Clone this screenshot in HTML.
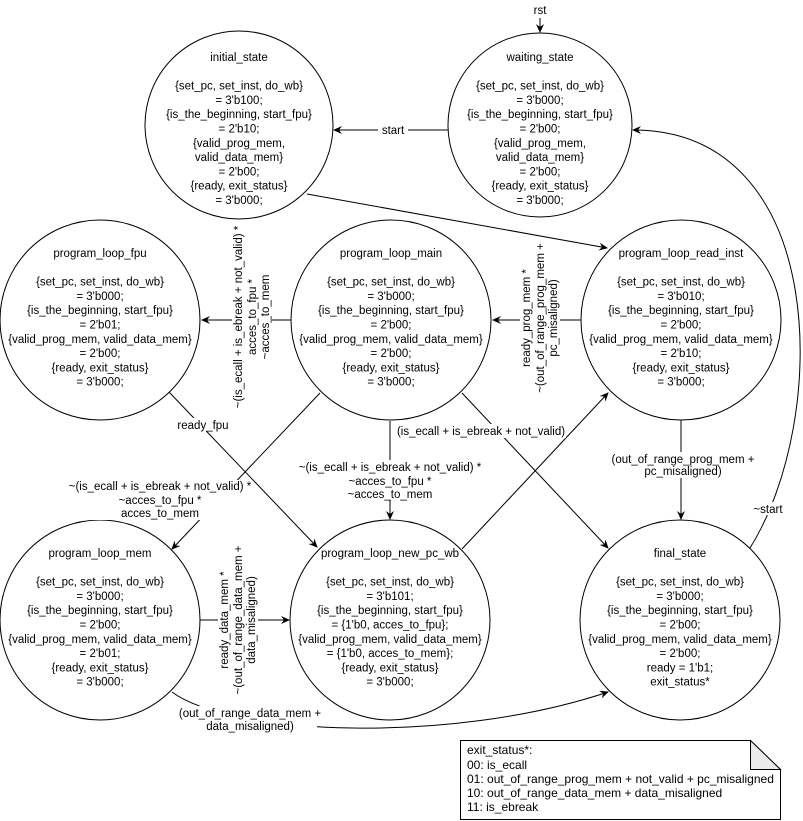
<!DOCTYPE html>
<html><head><meta charset="utf-8"><style>
html,body{margin:0;padding:0;background:#fff;}
svg{display:block;font-family:"Liberation Sans",Arial,sans-serif;font-size:11.5px;}
</style></head><body>
<svg width="803" height="821" viewBox="0 0 803 821" xmlns="http://www.w3.org/2000/svg">
<defs>
<marker id="a" markerWidth="10" markerHeight="10" refX="8" refY="5" orient="auto" markerUnits="userSpaceOnUse">
<path d="M0,1 L9,5 L0,9 L3,5 Z" fill="#000"/>
</marker>
</defs>
<g fill="#fff" stroke="#000" stroke-width="1">
<circle cx="239" cy="125" r="94"/>
<circle cx="540" cy="125" r="92"/>
<circle cx="100" cy="320" r="100"/>
<circle cx="391" cy="320" r="100"/>
<circle cx="681" cy="320" r="100"/>
<circle cx="100" cy="620" r="100"/>
<circle cx="390" cy="620" r="100"/>
<circle cx="680" cy="620" r="100"/>
</g>
<g fill="none" stroke="#000" stroke-width="1" marker-end="url(#a)">
<line x1="540" y1="18" x2="540" y2="32"/>
<line x1="448" y1="130" x2="334" y2="130"/>
<line x1="307" y1="194" x2="607" y2="248"/>
<line x1="291" y1="320" x2="202" y2="320"/>
<line x1="581" y1="320" x2="493" y2="320"/>
<line x1="169" y1="392" x2="317" y2="547"/>
<line x1="320" y1="393" x2="172" y2="549"/>
<line x1="390" y1="421" x2="390" y2="519"/>
<line x1="462" y1="393" x2="608" y2="548"/>
<line x1="462" y1="549" x2="608" y2="393"/>
<line x1="681" y1="420" x2="681" y2="519"/>
<line x1="200" y1="620" x2="289" y2="620"/>
<path d="M172,692 C230,735 450,745 608,692"/>
<path d="M750,548 C830,420 830,130 633,130"/>
</g>
<g text-anchor="middle" fill="#000">
<text x="540" y="14">rst</text>
<rect x="378" y="123" width="30" height="13" fill="#fff"/><text x="393" y="134">start</text>
<rect x="176" y="418" width="54" height="13" fill="#fff"/><text x="203" y="429">ready_fpu</text>
<rect x="396" y="424" width="170" height="14" fill="#fff"/><text x="481" y="435">(is_ecall + is_ebreak + not_valid)</text>
<rect x="68" y="480" width="184" height="40" fill="#fff"/>
<text x="160" y="490">~(is_ecall + is_ebreak + not_valid) *</text>
<text x="160" y="504">~acces_to_fpu *</text>
<text x="160" y="517">acces_to_mem</text>
<rect x="298" y="460" width="184" height="40" fill="#fff"/>
<text x="390" y="471">~(is_ecall + is_ebreak + not_valid) *</text>
<text x="390" y="485">~acces_to_fpu *</text>
<text x="390" y="498">~acces_to_mem</text>
<rect x="613" y="452" width="138" height="26" fill="#fff"/>
<text x="683" y="463">(out_of_range_prog_mem +</text>
<text x="683" y="475">pc_misaligned)</text>
<rect x="183" y="706" width="134" height="26" fill="#fff"/>
<text x="250" y="717">(out_of_range_data_mem +</text>
<text x="250" y="730">data_misaligned)</text>
<rect x="752" y="502" width="32" height="13" fill="#fff"/><text x="768" y="513">~start</text>
<g transform="translate(252,317) rotate(-90)">
<rect x="-90" y="-20" width="180" height="40" fill="#fff"/>
<text x="0" y="-10">~(is_ecall + is_ebreak + not_valid) *</text>
<text x="0" y="4">acces_to_fpu *</text>
<text x="0" y="17">~acces_to_mem</text>
</g>
<g transform="translate(540,318) rotate(-90)">
<rect x="-74" y="-20" width="148" height="40" fill="#fff"/>
<text x="0" y="-10">ready_prog_mem *</text>
<text x="0" y="4">~(out_of_range_prog_mem +</text>
<text x="0" y="17">pc_misaligned)</text>
</g>
<g transform="translate(238,620) rotate(-90)">
<rect x="-74" y="-20" width="148" height="40" fill="#fff"/>
<text x="0" y="-10">ready_data_mem *</text>
<text x="0" y="4">~(out_of_range_data_mem +</text>
<text x="0" y="17">data_misaligned)</text>
</g>
</g>
<g text-anchor="middle" fill="#000">
<text x="239" y="61"><tspan x="239">initial_state</tspan><tspan x="239" dy="28.6">{set_pc, set_inst, do_wb}</tspan><tspan x="239" dy="14.3">= 3'b100;</tspan><tspan x="239" dy="14.3">{is_the_beginning, start_fpu}</tspan><tspan x="239" dy="14.3">= 2'b10;</tspan><tspan x="239" dy="14.3">{valid_prog_mem,</tspan><tspan x="239" dy="14.3">valid_data_mem}</tspan><tspan x="239" dy="14.3">= 2'b00;</tspan><tspan x="239" dy="14.3">{ready, exit_status}</tspan><tspan x="239" dy="14.3">= 3'b000;</tspan></text>
<text x="540" y="61"><tspan x="540">waiting_state</tspan><tspan x="540" dy="28.6">{set_pc, set_inst, do_wb}</tspan><tspan x="540" dy="14.3">= 3'b000;</tspan><tspan x="540" dy="14.3">{is_the_beginning, start_fpu}</tspan><tspan x="540" dy="14.3">= 2'b00;</tspan><tspan x="540" dy="14.3">{valid_prog_mem,</tspan><tspan x="540" dy="14.3">valid_data_mem}</tspan><tspan x="540" dy="14.3">= 2'b00;</tspan><tspan x="540" dy="14.3">{ready, exit_status}</tspan><tspan x="540" dy="14.3">= 3'b000;</tspan></text>
<text x="100" y="257"><tspan x="100">program_loop_fpu</tspan><tspan x="100" dy="28.6">{set_pc, set_inst, do_wb}</tspan><tspan x="100" dy="14.3">= 3'b000;</tspan><tspan x="100" dy="14.3">{is_the_beginning, start_fpu}</tspan><tspan x="100" dy="14.3">= 2'b01;</tspan><tspan x="100" dy="14.3">{valid_prog_mem, valid_data_mem}</tspan><tspan x="100" dy="14.3">= 2'b00;</tspan><tspan x="100" dy="14.3">{ready, exit_status}</tspan><tspan x="100" dy="14.3">= 3'b000;</tspan></text>
<text x="391" y="257"><tspan x="391">program_loop_main</tspan><tspan x="391" dy="28.6">{set_pc, set_inst, do_wb}</tspan><tspan x="391" dy="14.3">= 3'b000;</tspan><tspan x="391" dy="14.3">{is_the_beginning, start_fpu}</tspan><tspan x="391" dy="14.3">= 2'b00;</tspan><tspan x="391" dy="14.3">{valid_prog_mem, valid_data_mem}</tspan><tspan x="391" dy="14.3">= 2'b00;</tspan><tspan x="391" dy="14.3">{ready, exit_status}</tspan><tspan x="391" dy="14.3">= 3'b000;</tspan></text>
<text x="681" y="257"><tspan x="681">program_loop_read_inst</tspan><tspan x="681" dy="28.6">{set_pc, set_inst, do_wb}</tspan><tspan x="681" dy="14.3">= 3'b010;</tspan><tspan x="681" dy="14.3">{is_the_beginning, start_fpu}</tspan><tspan x="681" dy="14.3">= 2'b00;</tspan><tspan x="681" dy="14.3">{valid_prog_mem, valid_data_mem}</tspan><tspan x="681" dy="14.3">= 2'b10;</tspan><tspan x="681" dy="14.3">{ready, exit_status}</tspan><tspan x="681" dy="14.3">= 3'b000;</tspan></text>
<text x="100" y="557"><tspan x="100">program_loop_mem</tspan><tspan x="100" dy="28.6">{set_pc, set_inst, do_wb}</tspan><tspan x="100" dy="14.3">= 3'b000;</tspan><tspan x="100" dy="14.3">{is_the_beginning, start_fpu}</tspan><tspan x="100" dy="14.3">= 2'b00;</tspan><tspan x="100" dy="14.3">{valid_prog_mem, valid_data_mem}</tspan><tspan x="100" dy="14.3">= 2'b01;</tspan><tspan x="100" dy="14.3">{ready, exit_status}</tspan><tspan x="100" dy="14.3">= 3'b000;</tspan></text>
<text x="390" y="557"><tspan x="390">program_loop_new_pc_wb</tspan><tspan x="390" dy="28.6">{set_pc, set_inst, do_wb}</tspan><tspan x="390" dy="14.3">= 3'b101;</tspan><tspan x="390" dy="14.3">{is_the_beginning, start_fpu}</tspan><tspan x="390" dy="14.3">= {1'b0, acces_to_fpu};</tspan><tspan x="390" dy="14.3">{valid_prog_mem, valid_data_mem}</tspan><tspan x="390" dy="14.3">= {1'b0, acces_to_mem};</tspan><tspan x="390" dy="14.3">{ready, exit_status}</tspan><tspan x="390" dy="14.3">= 3'b000;</tspan></text>
<text x="680" y="557"><tspan x="680">final_state</tspan><tspan x="680" dy="28.6">{set_pc, set_inst, do_wb}</tspan><tspan x="680" dy="14.3">= 3'b000;</tspan><tspan x="680" dy="14.3">{is_the_beginning, start_fpu}</tspan><tspan x="680" dy="14.3">= 2'b00;</tspan><tspan x="680" dy="14.3">{valid_prog_mem, valid_data_mem}</tspan><tspan x="680" dy="14.3">= 2'b00;</tspan><tspan x="680" dy="14.3">ready = 1'b1;</tspan><tspan x="680" dy="14.3">exit_status*</tspan></text>
</g>
<path d="M460.5,740.5 L750.5,740.5 L780.5,769.5 L780.5,819.5 L460.5,819.5 Z" fill="#fff" stroke="#000"/>
<path d="M750.5,740.5 L750.5,769.5 L780.5,769.5 Z" fill="#ebebeb" stroke="#000"/>
<g font-size="12" fill="#000">
<text x="467" y="754">exit_status*:</text>
<text x="467" y="769">00: is_ecall</text>
<text x="467" y="783">01: out_of_range_prog_mem + not_valid + pc_misaligned</text>
<text x="467" y="797">10: out_of_range_data_mem + data_misaligned</text>
<text x="467" y="811">11: is_ebreak</text>
</g>
</svg>
</body></html>
